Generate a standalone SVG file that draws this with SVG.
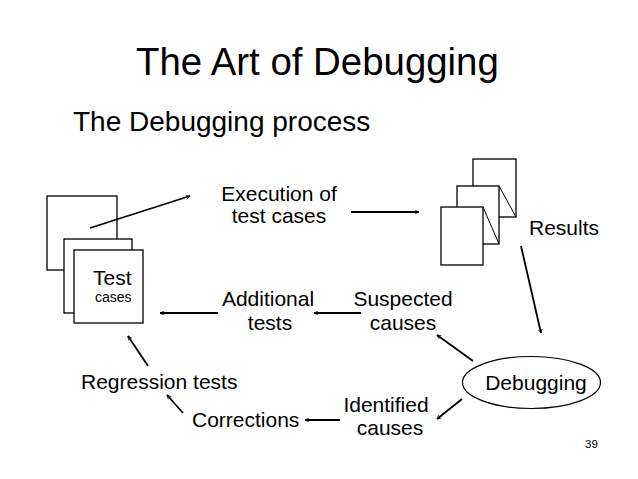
<svg xmlns="http://www.w3.org/2000/svg" width="638" height="479" viewBox="0 0 638 479">
  <style>
    text { font-family: "Liberation Sans", Arial, sans-serif; fill: #000; }
    .title { font-size: 38.4px; }
    .sub { font-size: 28px; }
    .lbl { font-size: 21px; }
    .mid { text-anchor: middle; }
    .small { font-size: 14px; }
    .pg { font-size: 11.5px; }
    .box { fill: #fff; stroke: #000; stroke-width: 1.3; }
    .edge { fill: none; stroke: #000; stroke-width: 1.8; marker-end: url(#arrow); }
  </style>
  <defs>
    <marker id="arrow" viewBox="0 0 10 10" refX="9" refY="5" markerWidth="5" markerHeight="5" orient="auto" markerUnits="userSpaceOnUse">
      <path d="M1,1 L9,5 L1,9" fill="none" stroke="#000" stroke-width="1.4"/>
    </marker>
  </defs>
  <rect width="638" height="479" fill="#fff"/>

  <text class="title" x="136" y="75">The Art of Debugging</text>
  <text class="sub" x="73" y="131">The Debugging process</text>

  <g id="test-cases">
    <rect class="box" x="47" y="196" width="70" height="74"/>
    <rect class="box" x="64" y="239" width="68" height="74"/>
    <rect class="box" x="74" y="250" width="69" height="73"/>
    <text class="lbl" x="93" y="285">Test</text>
    <text class="small" x="95" y="302">cases</text>
  </g>

  <g id="execution">
    <text class="lbl mid" x="279" y="201">Execution of</text>
    <text class="lbl mid" x="279" y="223">test cases</text>
  </g>

  <g id="results">
    <rect class="box" x="473" y="159" width="43" height="58"/>
    <line x1="499" y1="186" x2="516" y2="217" stroke="#000" stroke-width="1"/>
    <rect class="box" x="457" y="186" width="42" height="58"/>
    <line x1="483" y1="207" x2="499" y2="244" stroke="#000" stroke-width="1"/>
    <rect class="box" x="441" y="207" width="42" height="58"/>
    <text class="lbl" x="529" y="235">Results</text>
  </g>

  <g id="debugging">
    <ellipse cx="531.5" cy="382.5" rx="69" ry="26" fill="none" stroke="#000" stroke-width="1.2"/>
    <text class="lbl mid" x="536" y="390">Debugging</text>
  </g>

  <g id="suspected-causes">
    <text class="lbl mid" x="403" y="306">Suspected</text>
    <text class="lbl mid" x="403" y="330">causes</text>
  </g>

  <g id="additional-tests">
    <text class="lbl mid" x="268" y="306">Additional</text>
    <text class="lbl mid" x="270" y="330">tests</text>
  </g>

  <g id="identified-causes">
    <text class="lbl mid" x="386" y="412">Identified</text>
    <text class="lbl mid" x="390" y="435">causes</text>
  </g>

  <g id="corrections">
    <text class="lbl" x="192" y="427">Corrections</text>
  </g>

  <g id="regression-tests">
    <text class="lbl" x="81" y="389">Regression tests</text>
  </g>

  <g id="connectors">
    <line class="edge" x1="90" y1="228" x2="190" y2="196"/>
    <line class="edge" x1="351" y1="212" x2="419" y2="212"/>
    <line class="edge" x1="521" y1="246" x2="541" y2="333"/>
    <line class="edge" x1="473" y1="361" x2="437" y2="335"/>
    <line class="edge" x1="462" y1="399" x2="437" y2="419"/>
    <line class="edge" x1="361" y1="313" x2="314" y2="313"/>
    <line class="edge" x1="218" y1="313" x2="160" y2="313"/>
    <line class="edge" x1="340" y1="420" x2="305" y2="420"/>
    <line class="edge" x1="183" y1="413" x2="167" y2="395"/>
    <line class="edge" x1="148" y1="366" x2="128" y2="336"/>
  </g>

  <text class="pg" x="585" y="448">39</text>
</svg>
